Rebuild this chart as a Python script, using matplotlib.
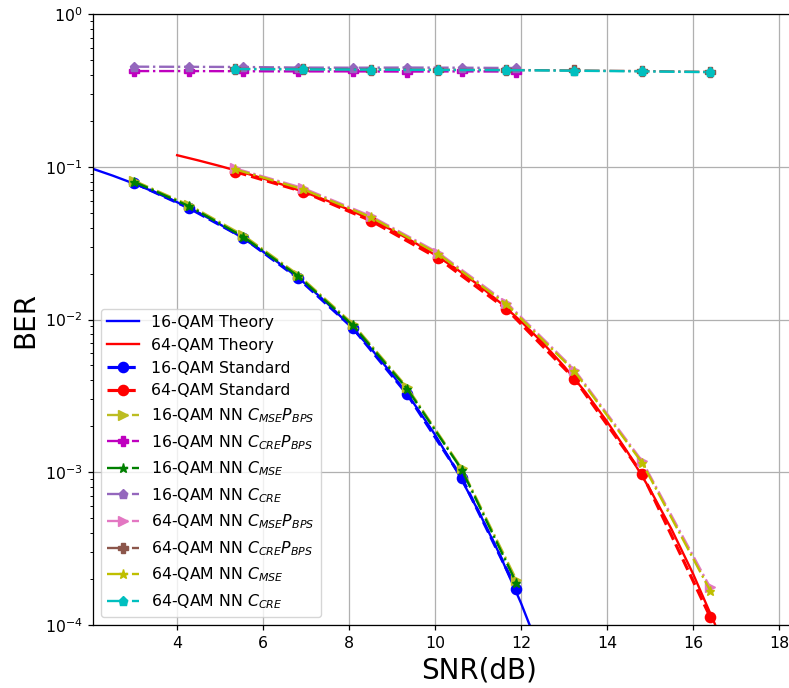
import matplotlib
matplotlib.use("Agg")
import matplotlib.pyplot as plt

# ---------------- data ----------------
# theory curves
snr_th16 = [2.0, 2.5, 3.0, 3.5, 4.0, 4.5, 5.0, 5.5, 6.0, 6.5, 7.0, 7.5, 8.0, 8.5,
            9.0, 9.5, 10.0, 10.5, 11.0, 11.5, 12.0, 12.5]
ber_th16 = [0.0978, 0.0875, 0.0775, 0.0678, 0.0586, 0.0500, 0.0419, 0.0345, 0.0278,
            0.0220, 0.0170, 0.0127, 0.00924, 0.0065, 0.00439, 0.00284, 0.00176,
            0.001026, 5.64e-4, 2.91e-4, 1.39e-4, 6.1e-5]
snr_th64 = [4.0, 4.5, 5.0, 5.5, 6.0, 6.5, 7.0, 7.5, 8.0, 8.5, 9.0, 9.5, 10.0, 10.5,
            11.0, 11.5, 12.0, 12.5, 13.0, 13.5, 14.0, 14.5, 15.0, 15.5, 16.0, 16.5, 17.0]
ber_th64 = [0.119, 0.1099, 0.101, 0.0923, 0.0839, 0.0756, 0.0676, 0.0598, 0.0523,
            0.0452, 0.0385, 0.0322, 0.0265, 0.0214, 0.0169, 0.0130, 0.00972, 0.00706,
            0.00495, 0.00334, 0.00215, 0.001326, 7.72e-4, 4.24e-4, 2.17e-4, 1.03e-4, 4.5e-5]

snr16 = [3.0, 4.27, 5.54, 6.81, 8.08, 9.35, 10.62, 11.89]
snr64 = [5.35, 6.93, 8.51, 10.08, 11.66, 13.24, 14.82, 16.40]

ber16_std = [0.0785, 0.0538, 0.0343, 0.0187, 0.00885, 0.00325, 0.00092, 0.000172]
ber64_std = [0.0929, 0.0687, 0.0443, 0.0251, 0.01172, 0.0041, 0.000975, 0.000113]

ber16_mse_pbps = [0.0810, 0.0563, 0.0356, 0.0197, 0.0094, 0.00360, 0.00106, 0.000198]
ber16_cre_pbps = [0.423, 0.423, 0.422, 0.421, 0.421, 0.420, 0.421, 0.420]
ber16_mse = [0.0798, 0.0553, 0.0348, 0.0193, 0.0092, 0.00352, 0.00104, 0.000189]
ber16_cre = [0.452, 0.451, 0.450, 0.446, 0.445, 0.446, 0.445, 0.443]

ber64_mse_pbps = [0.0975, 0.0725, 0.0475, 0.0273, 0.0129, 0.0047, 0.00118, 0.000176]
ber64_cre_pbps = [0.437, 0.436, 0.433, 0.431, 0.430, 0.427, 0.423, 0.418]
ber64_mse = [0.0962, 0.0712, 0.0467, 0.0268, 0.0126, 0.0046, 0.00115, 0.000168]
ber64_cre = [0.436, 0.434, 0.432, 0.430, 0.429, 0.425, 0.421, 0.416]

# ---------------- style (scaled defaults) ----------------
s = 1.13
plt.rcParams.update({
    'axes.linewidth': 0.8 * s,
    'xtick.major.size': 3.5 * s, 'ytick.major.size': 3.5 * s,
    'xtick.minor.size': 2 * s, 'ytick.minor.size': 2 * s,
    'xtick.major.width': 0.8 * s, 'ytick.major.width': 0.8 * s,
    'xtick.minor.width': 0.6 * s, 'ytick.minor.width': 0.6 * s,
    'xtick.major.pad': 3.5 * s, 'ytick.major.pad': 3.5 * s,
    'grid.linewidth': 0.8 * s,
})

# ---------------- plot ----------------
fig = plt.figure(figsize=(7.89, 6.88), dpi=100)
ax = fig.add_axes([93.3 / 789, 63 / 688, 0.978, 611 / 688])

lw_nn = 1.5 * s
ms_nn = 6 * s
ax.semilogy(snr_th16, ber_th16, '-', color='b', lw=1.5 * s, label='16-QAM Theory')
ax.semilogy(snr_th64, ber_th64, '-', color='r', lw=1.5 * s, label='64-QAM Theory')
ax.semilogy(snr16, ber16_std, '--', color='b', marker='o', lw=2 * s, ms=6.5 * s,
            label='16-QAM Standard')
ax.semilogy(snr64, ber64_std, '--', color='r', marker='o', lw=2 * s, ms=6.5 * s,
            label='64-QAM Standard')
ax.semilogy(snr16, ber16_mse_pbps, '-.', color='tab:olive', marker='>', lw=lw_nn, ms=ms_nn,
            label='16-QAM NN $C_{MSE}P_{BPS}$')
ax.semilogy(snr16, ber16_cre_pbps, '-.', color='m', marker='P', lw=lw_nn, ms=ms_nn,
            label='16-QAM NN $C_{CRE}P_{BPS}$')
ax.semilogy(snr16, ber16_mse, '-.', color='g', marker='*', lw=lw_nn, ms=ms_nn,
            label='16-QAM NN $C_{MSE}$')
ax.semilogy(snr16, ber16_cre, '-.', color='tab:purple', marker='p', lw=lw_nn, ms=ms_nn,
            label='16-QAM NN $C_{CRE}$')
ax.semilogy(snr64, ber64_mse_pbps, '-.', color='tab:pink', marker='>', lw=lw_nn, ms=ms_nn,
            label='64-QAM NN $C_{MSE}P_{BPS}$')
ax.semilogy(snr64, ber64_cre_pbps, '-.', color='tab:brown', marker='P', lw=lw_nn, ms=ms_nn,
            label='64-QAM NN $C_{CRE}P_{BPS}$')
ax.semilogy(snr64, ber64_mse, '-.', color='y', marker='*', lw=lw_nn, ms=ms_nn,
            label='64-QAM NN $C_{MSE}$')
ax.semilogy(snr64, ber64_cre, '-.', color='c', marker='p', lw=lw_nn, ms=ms_nn,
            label='64-QAM NN $C_{CRE}$')

ax.set_xlim(2.05, 20)
ax.set_ylim(1e-4, 1)
ax.set_xticks([4, 6, 8, 10, 12, 14, 16, 18])
ax.tick_params(axis='both', which='major', labelsize=10 * s)
ax.grid(True, which='major', color='#b0b0b0')
ax.set_xlabel('SNR(dB)', fontsize=20)
ax.set_ylabel('BER', fontsize=20)
ax.legend(loc='lower left', fontsize=10 * s)

fig.savefig('out.png', dpi=100)
